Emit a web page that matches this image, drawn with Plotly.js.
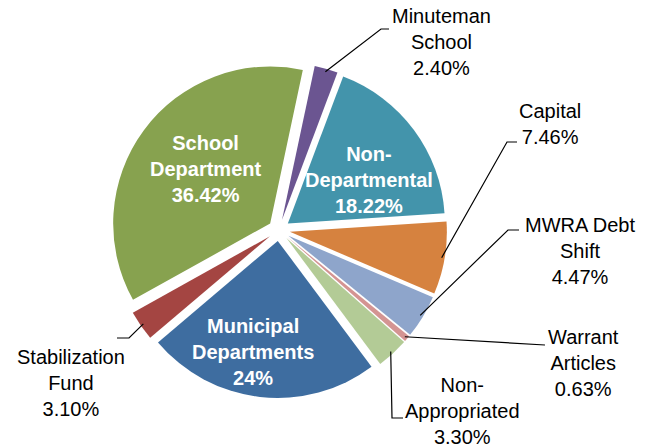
<!DOCTYPE html>
<html>
<head>
<meta charset="utf-8">
<script src="https://cdn.plot.ly/plotly-3.0.1.min.js"></script>
<style>
  html, body { margin: 0; padding: 0; background: #ffffff; }
  #chart { width: 650px; height: 448px; }
</style>
</head>
<body>
<div id="chart"></div>
<script>
// ---- Data ----
const categories = ['Minuteman School', 'Non-Departmental', 'Capital', 'MWRA Debt Shift',
  'Warrant Articles', 'Non-Appropriated', 'Municipal Departments', 'Stabilization Fund', 'School Department'];
const labelLines = ['Minuteman<br>School', 'Non-<br>Departmental', 'Capital', 'MWRA Debt<br>Shift',
  'Warrant<br>Articles', 'Non-<br>Appropriated', 'Municipal<br>Departments', 'Stabilization<br>Fund', 'School<br>Department'];
const values = [2.40, 18.22, 7.46, 4.47, 0.63, 3.30, 24, 3.10, 36.42];
const valueLabels = ['2.40%', '18.22%', '7.46%', '4.47%', '0.63%', '3.30%', '24%', '3.10%', '36.42%'];
const colors = ['#6B5591', '#4394AB', '#D6823F', '#8EA5CB', '#D49492', '#B3CB96', '#3E6DA0', '#A44542', '#87A24F'];

// ---- Layout / styling ----
const W = 650, H = 448;
const domainX = [0.1708, 0.6877];
const domainY = [0.1116, 0.8616];
const pull = 0.07;
const rotation = 12;

// label placement (pixels): center of text, and leader elbow / end points
const labelPlace = [
  {x: 441, y: 42, inside: false, elbow: [381, 29], end: [389, 29]},
  {x: 369, y: 180, inside: true},
  {x: 550, y: 124, inside: false, elbow: [507, 142], end: [517, 142]},
  {x: 580, y: 251, inside: false, elbow: [508, 230], end: [519, 230]},
  {x: 583, y: 363, inside: false, elbow: [545, 345], end: [545, 345]},
  {x: 462, y: 411, inside: false, elbow: [392, 418], end: [403, 418]},
  {x: 253, y: 352, inside: true},
  {x: 71, y: 383, inside: false, elbow: [129, 338], end: [117, 338]},
  {x: 205, y: 169, inside: true}
];

// pie geometry (as plotly computes it, margins 0)
const cx = W * (domainX[0] + domainX[1]) / 2;
const cy = H * (1 - domainY[0]) - H * (domainY[1] - domainY[0]) / 2;
const outerR = Math.min(W * (domainX[1] - domainX[0]), H * (domainY[1] - domainY[0])) / 2; // r*(1+pull)

const total = values.reduce((a, b) => a + b, 0);
let cum = 0;
const midAngles = values.map(v => { const m = rotation + (cum + v / 2) / total * 360; cum += v; return m; });

const px = x => x / W;
const py = y => 1 - y / H;

const annotations = [];
const shapes = [];
categories.forEach((c, i) => {
  const p = labelPlace[i];
  annotations.push({
    xref: 'paper', yref: 'paper', x: px(p.x), y: py(p.y),
    xanchor: 'center', yanchor: 'middle', showarrow: false, align: 'center',
    text: p.inside ? '<b>' + labelLines[i] + '<br>' + valueLabels[i] + '</b>' : labelLines[i] + '<br>' + valueLabels[i],
    font: {family: 'Liberation Sans, Arial, sans-serif', size: 20, color: p.inside ? '#ffffff' : '#000000'}
  });
  if (!p.inside) {
    const a = midAngles[i] * Math.PI / 180;
    const rr = outerR - 3;
    const ax = cx + rr * Math.sin(a), ay = cy - rr * Math.cos(a);
    shapes.push({
      type: 'path', xref: 'paper', yref: 'paper',
      path: `M ${px(ax)} ${py(ay)} L ${px(p.elbow[0])} ${py(p.elbow[1])} L ${px(p.end[0])} ${py(p.end[1])}`,
      line: {color: '#000000', width: 1.2}
    });
  }
});

const trace = {
  type: 'pie',
  labels: categories,
  values: values,
  sort: false,
  direction: 'clockwise',
  rotation: rotation,
  pull: values.map(() => pull),
  marker: {colors: colors, line: {color: '#ffffff', width: 0}},
  textinfo: 'none',
  hoverinfo: 'label+percent',
  domain: {x: domainX, y: domainY},
  showlegend: false
};

const layout = {
  width: W, height: H,
  margin: {l: 0, r: 0, t: 0, b: 0},
  paper_bgcolor: '#ffffff',
  showlegend: false,
  annotations: annotations,
  shapes: shapes
};

Plotly.newPlot('chart', [trace], layout, {displayModeBar: false, staticPlot: true});
</script>
</body>
</html>
